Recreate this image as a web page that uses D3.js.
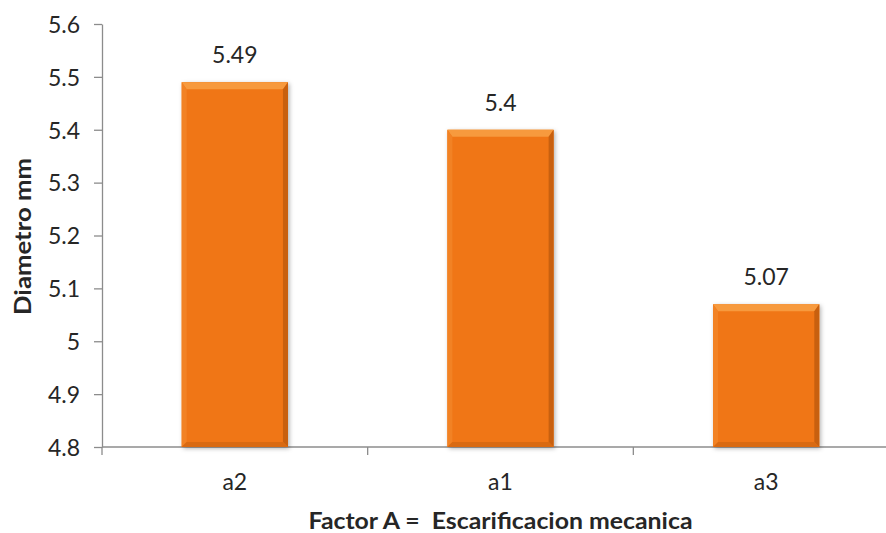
<!DOCTYPE html>
<html><head><meta charset="utf-8">
<script src="https://cdn.jsdelivr.net/npm/d3@7"></script>
<style>
html,body{margin:0;padding:0;background:#fff;}
svg{display:block;}
text{font-family:Lato,"Open Sans","Liberation Sans",sans-serif;fill:#262626;}
</style></head>
<body>
<svg id="chart" width="886" height="533"></svg>
<script>
const categories = ["a2", "a1", "a3"];
const values = [5.49, 5.4, 5.07];
const yTicks = [4.8, 4.9, 5.0, 5.1, 5.2, 5.3, 5.4, 5.5, 5.6];
const yTickLabels = ["4.8", "4.9", "5", "5.1", "5.2", "5.3", "5.4", "5.5", "5.6"];
const yTitle = "Diametro mm";
const xTitle = "Factor A =  Escarificacion mecanica";

(function(){
const svg = d3.select("#chart");
const pLeft = 102, pRight = 899, pTop = 24, pBottom = 447;

const x = d3.scaleBand().domain(categories).range([pLeft, pRight]).paddingInner(0.6).paddingOuter(0.3);
const y = d3.scaleLinear().domain([4.8, 5.6]).range([pBottom, pTop]);

const defs = svg.append("defs");
const f = defs.append("filter").attr("id","sh").attr("x","-20%").attr("y","-20%").attr("width","140%").attr("height","140%");
f.append("feDropShadow").attr("dx",1.5).attr("dy",1.5).attr("stdDeviation",2).attr("flood-color","#000").attr("flood-opacity",0.3);

// y axis
const yAxis = d3.axisLeft(y).tickValues(yTicks).tickFormat((d,i)=>yTickLabels[i]).tickSize(8).tickSizeOuter(0);
const gy = svg.append("g").attr("transform",`translate(${pLeft},0)`).call(yAxis);
gy.attr("font-family",null).attr("font-size",null);
gy.select(".domain").attr("stroke","#8c8c8c").attr("stroke-width",1.3);
gy.selectAll(".tick line").attr("stroke","#8c8c8c").attr("stroke-width",1.3);
gy.selectAll(".tick text").attr("x",-22).attr("dy","0.36em").style("font-size","23px").attr("fill","#262626");

// x axis line with category boundary ticks
const gx = svg.append("g");
gx.append("line").attr("x1",pLeft).attr("x2",pRight).attr("y1",pBottom).attr("y2",pBottom).attr("stroke","#8c8c8c").attr("stroke-width",1.3);
const step = x.step();
const edges = [pLeft].concat(categories.slice(1).map(c => x(c) - (step - x.bandwidth())/2));
edges.push(pRight);
gx.selectAll(".xt").data(edges).enter().append("line")
  .attr("x1",d=>d).attr("x2",d=>d).attr("y1",pBottom).attr("y2",pBottom+8)
  .attr("stroke","#8c8c8c").attr("stroke-width",1.3);
gx.selectAll(".xl").data(categories).enter().append("text")
  .attr("x",d=>x(d)+x.bandwidth()/2).attr("y",pBottom+43)
  .attr("text-anchor","middle").style("font-size","23px").text(d=>d);

// bars with bevel
const bw = x.bandwidth();
const bars = svg.selectAll(".bar").data(categories.map((c,i)=>({c, v: values[i]}))).enter().append("g").attr("class","bar");
bars.append("rect")
  .attr("x",d=>x(d.c)).attr("y",d=>y(d.v)).attr("width",bw).attr("height",d=>pBottom-y(d.v))
  .attr("fill","#f07613").attr("filter","url(#sh)");
const bt = 7, bs = 5;
bars.append("polygon").attr("points",d=>{
  const x0=x(d.c), x1=x0+bw, y0=y(d.v);
  return [[x0,y0],[x1,y0],[x1-bs,y0+bt],[x0+bs,y0+bt]].join(" ");
}).attr("fill","#f79a3e");
bars.append("polygon").attr("points",d=>{
  const x0=x(d.c), y0=y(d.v);
  return [[x0,y0],[x0+bs,y0+bt],[x0+bs,pBottom-bs],[x0,pBottom]].join(" ");
}).attr("fill","#f28224");
bars.append("polygon").attr("points",d=>{
  const x1=x(d.c)+bw, y0=y(d.v);
  return [[x1,y0],[x1-bs,y0+bt],[x1-bs,pBottom-bs],[x1,pBottom]].join(" ");
}).attr("fill","#c8600f");
bars.append("polygon").attr("points",d=>{
  const x0=x(d.c), x1=x0+bw;
  return [[x0,pBottom],[x0+bs,pBottom-bs],[x1-bs,pBottom-bs],[x1,pBottom]].join(" ");
}).attr("fill","#d96a12");

// data labels
bars.append("text").attr("x",d=>x(d.c)+bw/2).attr("y",d=>y(d.v)-19)
  .attr("text-anchor","middle").style("font-size","23px").text(d=>String(d.v));

// titles
svg.append("text").attr("transform",`translate(31,${(pTop+pBottom)/2 + 1}) rotate(-90)`)
  .attr("text-anchor","middle").style("font-size","23px").style("font-weight","bold")
  .attr("textLength",157).attr("lengthAdjust","spacingAndGlyphs").text(yTitle);
svg.append("text").attr("x",(pLeft+pRight)/2).attr("y",pBottom+82)
  .attr("text-anchor","middle").style("font-size","23px").style("font-weight","bold").style("white-space","pre")
  .attr("textLength",384).attr("lengthAdjust","spacingAndGlyphs").text(xTitle);
})();
</script>
</body></html>
